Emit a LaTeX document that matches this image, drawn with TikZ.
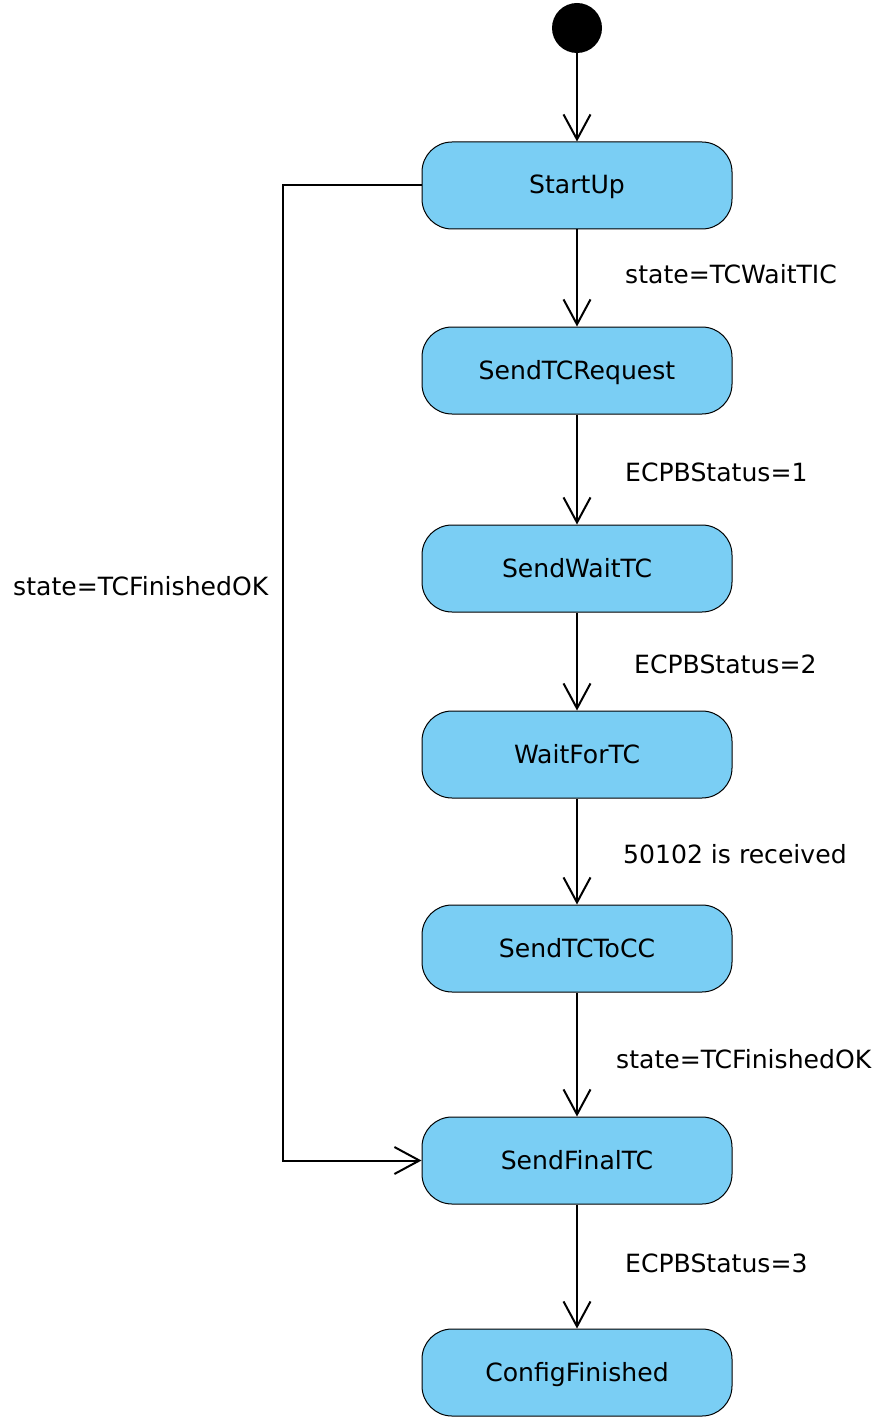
\documentclass[tikz,border=0pt]{standalone}
\usepackage{fontspec}
\setmainfont{DejaVu Sans}
\usetikzlibrary{arrows.meta}
\definecolor{stfill}{RGB}{122,206,244}
\tikzset{
  stbox/.style={draw=black, line width=1pt, fill=stfill, rounded corners=30pt,
    minimum width=310pt, minimum height=87pt, inner sep=0pt, text height=20pt, text depth=3pt,
    font=\fontsize{25.1}{29}\selectfont},
  conn/.style={draw=black, line width=2pt, -{Straight Barb[length=25pt,width=27pt,line width=2pt]}},
  lbl/.style={font=\fontsize{25.1}{29}\selectfont, inner sep=0pt, anchor=west}
}
\begin{document}
\begin{tikzpicture}[x=1pt,y=-1pt]
\useasboundingbox (0,0) rectangle (888,1420);
\node[circle, fill=black, minimum size=50pt, inner sep=0pt] (init) at (577,28) {};
\node[stbox] (s1) at (577,185.5) {StartUp};
\node[stbox] (s2) at (577,370.5) {SendTCRequest};
\node[stbox] (s3) at (577,568.5) {SendWaitTC};
\node[stbox] (s4) at (577,754.5) {WaitForTC};
\node[stbox] (s5) at (577,948.5) {SendTCToCC};
\node[stbox] (s6) at (577,1160.5) {SendFinalTC};
\node[stbox] (s7) at (577,1372.5) {ConfigFinished};
\draw[conn] (init) -- (s1);
\draw[conn] (s1) -- (s2);
\draw[conn] (s2) -- (s3);
\draw[conn] (s3) -- (s4);
\draw[conn] (s4) -- (s5);
\draw[conn] (s5) -- (s6);
\draw[conn] (s6) -- (s7);
\coordinate (c1) at (283,185.5);
\coordinate (c2) at (283,1160.5);
\draw[conn] (s1.west) -- (c1) -- (c2) -- (s6.west);
\node[lbl] (l1) at (625,274) {state=TCWaitTIC};
\node[lbl] (l2) at (625,472) {ECPBStatus=1};
\node[lbl] (l3) at (634,664) {ECPBStatus=2};
\node[lbl] (l4) at (623,854) {50102 is received};
\node[lbl] (l5) at (616,1059) {state=TCFinishedOK};
\node[lbl] (l6) at (625,1263) {ECPBStatus=3};
\node[lbl] (l7) at (13,586) {state=TCFinishedOK};
\end{tikzpicture}
\end{document}
